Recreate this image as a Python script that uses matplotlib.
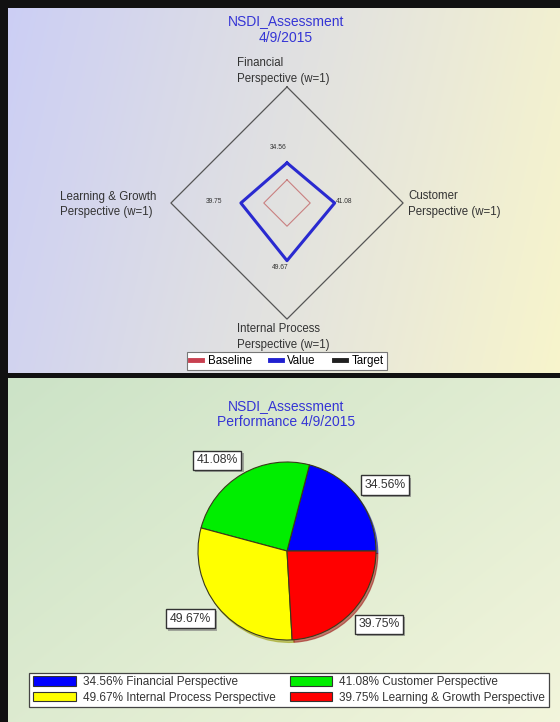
import numpy as np
import matplotlib.pyplot as plt
import matplotlib.patheffects as pe
from matplotlib.lines import Line2D
from matplotlib.patches import Patch

plt.rcParams['font.family'] = ['Liberation Sans', 'DejaVu Sans']

# dados do grafico
perspectives = ['Financial', 'Customer', 'Internal Process', 'Learning & Growth']
value = [34.56, 41.08, 49.67, 39.75]
baseline = [20, 20, 20, 20]
target = [100, 100, 100, 100]
pie_colors = ['#0000ff', '#00ee00', '#ffff00', '#ff0000']

W, H = 560, 722


def rect(x0, y0, x1, y1):
    # converte caixa em pixels (origem no topo) para coordenadas da figura
    return [x0 / W, 1 - y1 / H, (x1 - x0) / W, (y1 - y0) / H]


def fpos(x, y):
    return x / W, 1 - y / H


def gradient(ax, c0, c1, diag=0.0):
    nx, ny = 200, 200
    xx, yy = np.meshgrid(np.linspace(0, 1, nx), np.linspace(0, 1, ny))
    t = (xx + diag * yy) / (1 + diag)
    c0, c1 = np.array(c0), np.array(c1)
    img = c0[None, None, :] * (1 - t[..., None]) + c1[None, None, :] * t[..., None]
    ax.imshow(img, extent=[0, 1, 0, 1], aspect='auto', origin='upper')
    ax.set_axis_off()


fig = plt.figure(figsize=(5.6, 7.22), dpi=100, facecolor='#111111')

# fundos dos dois paineis
bg1 = fig.add_axes(rect(8, 8, 560, 373))
gradient(bg1, (0.80, 0.81, 0.96), (0.97, 0.96, 0.80), diag=0.15)
bg2 = fig.add_axes(rect(8, 378, 560, 722))
gradient(bg2, (0.80, 0.89, 0.78), (0.95, 0.96, 0.86), diag=0.8)

# ---------- radar ----------
angles = np.deg2rad([90, 0, -90, 180])
ax_r = fig.add_axes(rect(287 - 130, 203 - 130, 287 + 130, 203 + 130))
ax_r.set_xlim(-112, 112)
ax_r.set_ylim(-112, 112)
ax_r.set_axis_off()
ax_r.patch.set_alpha(0)


def closed(vals):
    v = np.array(vals + vals[:1], dtype=float)
    a = np.append(angles, angles[0])
    return v * np.cos(a), v * np.sin(a)


x, y = closed(target)
ax_r.plot(x, y, color='#555555', lw=0.9)
x, y = closed(baseline)
ax_r.plot(x, y, color='#c98080', lw=0.8)
x, y = closed(value)
ax_r.plot(x, y, color='#2a2ad0', lw=2.2)

# rotulos dos valores
offsets = [(-6, 11), (7, 1), (-5, -5), (-19, 1)]
for v, a, off in zip(value, angles, offsets):
    ax_r.annotate(f'{v:.2f}', (v * np.cos(a), v * np.sin(a)), xytext=off,
                  textcoords='offset points', ha='center', va='center',
                  fontsize=4.8, color='#333333')

# rotulos dos eixos
label_pos = [(237, 71), (408, 204), (237, 337), (60, 204.5)]
for name, (px, py) in zip(perspectives, label_pos):
    fig.text(*fpos(px, py), f'{name}\nPerspective (w=1)', ha='left', va='center',
             fontsize=8.3, color='#333333', linespacing=1.35)

fig.text(*fpos(286, 29.5), 'NSDI_Assessment\n4/9/2015', ha='center', va='center',
         fontsize=10, color='#3535d5', linespacing=1.25)

leg1 = fig.legend([Line2D([], [], color='#c84050', lw=3.5),
                   Line2D([], [], color='#2020d0', lw=3.5),
                   Line2D([], [], color='#202020', lw=3.5)],
                  ['Baseline', 'Value', 'Target'], ncol=3, loc='center',
                  bbox_to_anchor=fpos(287, 361), fontsize=8.3, handlelength=1.0,
                  handletextpad=0.5, columnspacing=1.6, borderpad=0.25,
                  fancybox=False, framealpha=1, edgecolor='#777777')
leg1.get_frame().set_linewidth(0.8)

# ---------- pizza ----------
fig.text(*fpos(286, 414), 'NSDI_Assessment\nPerformance 4/9/2015', ha='center',
         va='center', fontsize=10, color='#3535d5', linespacing=1.25)

ax_p = fig.add_axes(rect(287 - 140, 551 - 140, 287 + 140, 551 + 140))
ax_p.patch.set_alpha(0)
wedges, _ = ax_p.pie(value, colors=pie_colors, startangle=0, counterclock=True,
                     radius=1, wedgeprops=dict(edgecolor='#3a3a1a', lw=0.8),
                     shadow={'ox': 0.015, 'oy': -0.02, 'shade': 0.4})
ax_p.set_xlim(-1.573, 1.573)
ax_p.set_ylim(-1.573, 1.573)
ax_p.set_aspect('equal')
ax_p.set_axis_off()

for w, v in zip(wedges, value):
    mid = np.deg2rad((w.theta1 + w.theta2) / 2)
    cx, cy = np.cos(mid), np.sin(mid)
    t = ax_p.text(1.1 * cx, 1.1 * cy, f'{v:.2f}%', fontsize=8.8, color='#333333',
                  ha='left' if cx > 0 else 'right', va='bottom' if cy > 0 else 'top',
                  bbox=dict(boxstyle='square,pad=0.3', fc='white', ec='#333333', lw=1.0))
    t.get_bbox_patch().set_path_effects(
        [pe.withSimplePatchShadow(offset=(1.5, -1.5), shadow_rgbFace='#777777', alpha=0.6)])

order = [0, 2, 1, 3]
handles = [Patch(facecolor=pie_colors[i], edgecolor='#333333', lw=0.8) for i in order]
labels = [f'{value[i]:.2f}% {perspectives[i]} Perspective' for i in order]
leg2 = fig.legend(handles, labels, ncol=2, loc='center',
                  bbox_to_anchor=fpos(289, 690), fontsize=8.5,
                  handlelength=3.6, handleheight=0.85, handletextpad=0.6,
                  labelspacing=0.3, borderpad=0.3, columnspacing=1.2,
                  fancybox=False, framealpha=1, edgecolor='#444444')
leg2.get_frame().set_linewidth(0.9)
for t in leg2.get_texts():
    t.set_color('#333333')

fig.savefig('out.png', dpi=100, facecolor=fig.get_facecolor())
